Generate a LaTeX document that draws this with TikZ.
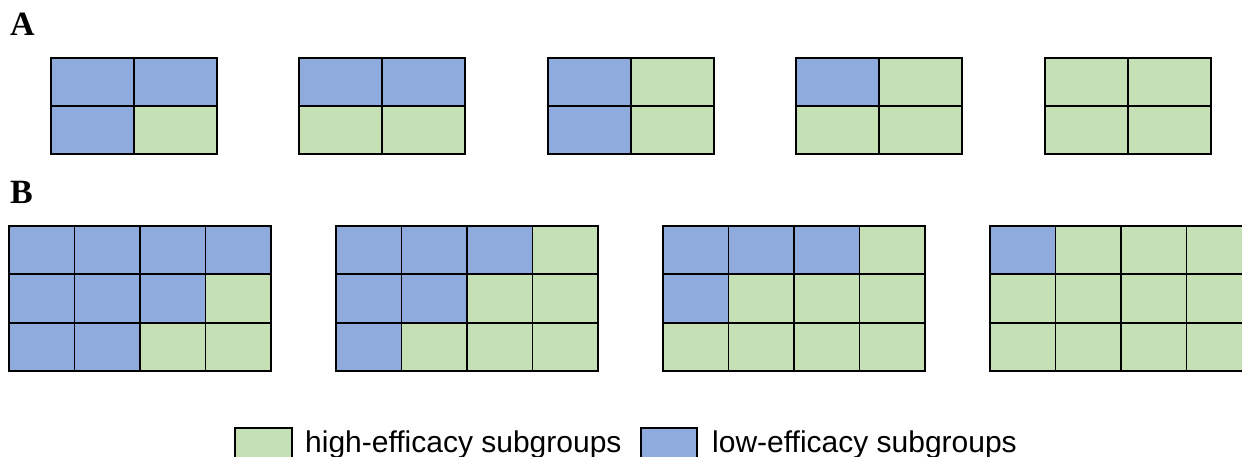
\documentclass[tikz,border=0pt]{standalone}
\usepackage{fontspec}
\setmainfont{Liberation Serif}
\newfontfamily\legendfont{Liberation Sans}
\definecolor{L}{HTML}{8FAADC}
\definecolor{H}{HTML}{C5E0B4}
\begin{document}
\begin{tikzpicture}[x=1pt,y=-1pt,
  cellbox/.style={draw=black,line width=1.8pt},
  panellabel/.style={anchor=base west,inner sep=0pt,font=\fontsize{34}{40}\selectfont\bfseries},
  legendtext/.style={anchor=base west,inner sep=0pt,font=\legendfont\fontsize{30}{36}\selectfont}]
\useasboundingbox (0,0) rectangle (1242,456);
\clip (0,0) rectangle (1242,456);
\fill[white] (0,0) rectangle (1242,456);

% panel labels
\node[panellabel] (labA) at (10,35) {A};
\node[panellabel] (labB) at (10,203) {B};

% panel A: 2x2 grids, cells listed row by row
\foreach \gx/\cl in {51/{L,L,L,H},299/{L,L,H,H},548/{L,H,L,H},796/{L,H,H,H},1045/{H,H,H,H}}{
  \foreach \c [count=\i from 0] in \cl {
    \pgfmathtruncatemacro\r{int(\i/2)}
    \pgfmathtruncatemacro\k{mod(\i,2)}
    \draw[cellbox,fill=\c] ({\gx+83*\k},{58+48*\r}) rectangle ++(83,48);
  }
}

% panel B: 3x4 grids, cells listed row by row
\foreach \gx/\cl in {9/{L,L,L,L,L,L,L,H,L,L,H,H},336/{L,L,L,H,L,L,H,H,L,H,H,H},663/{L,L,L,H,L,H,H,H,H,H,H,H},990/{L,H,H,H,H,H,H,H,H,H,H,H}}{
  \foreach \c [count=\i from 0] in \cl {
    \pgfmathtruncatemacro\r{int(\i/4)}
    \pgfmathtruncatemacro\k{mod(\i,4)}
    \draw[cellbox,fill=\c] ({\gx+65.5*\k},{226+48.3*\r}) rectangle ++(65.5,48.3);
  }
}

% legend
\draw[cellbox,fill=H] (235,428) rectangle (292,475);
\node[legendtext] (hi) at (305,452) {high-efficacy subgroups};
\draw[cellbox,fill=L] (641,428) rectangle (697,475);
\node[legendtext] (lo) at (712,452) {low-efficacy subgroups};
\end{tikzpicture}
\end{document}
